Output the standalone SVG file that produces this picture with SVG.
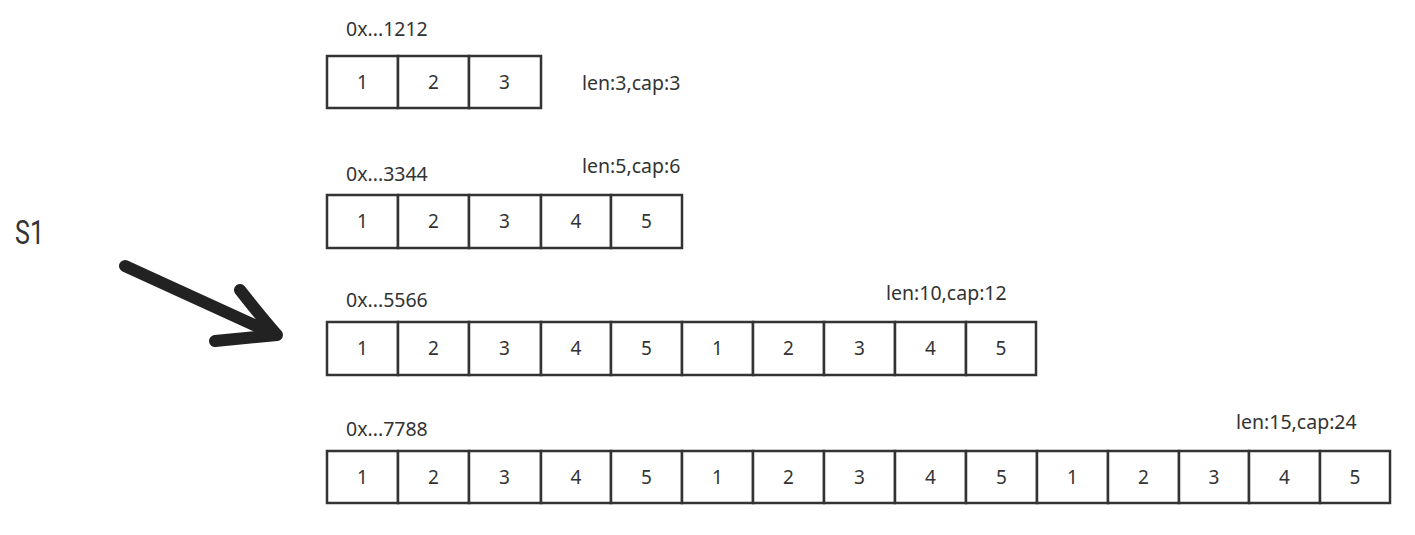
<svg xmlns="http://www.w3.org/2000/svg" width="1415" height="535" viewBox="0 0 1415 535">
<style>
.c{fill:#fff;stroke:#333;stroke-width:2.5}
.n{font-family:"Noto Sans","Liberation Sans",sans-serif;font-size:19px;fill:#333;text-anchor:middle}
.t{font-family:"Noto Sans","Liberation Sans",sans-serif;font-size:19.5px;fill:#333}
.s{font-family:Roboto,"Liberation Sans",sans-serif;font-size:33px;fill:#333}
.a{fill:none;stroke:#222;stroke-width:12;stroke-linecap:round;stroke-linejoin:round}
</style>
<rect width="1415" height="535" fill="#fff"/>
<g id="s1"><text class="s" x="15" y="244" textLength="29" lengthAdjust="spacingAndGlyphs">S1</text></g>
<g id="row1">
<text class="t" x="346" y="36">0x...1212</text>
<text class="t" x="582" y="90">len:3,cap:3</text>
<g transform="translate(0,56)">
<rect class="c" x="327" y="0" width="71" height="52"/><text class="n" x="362.5" y="33">1</text>
<rect class="c" x="398" y="0" width="71" height="52"/><text class="n" x="433.5" y="33">2</text>
<rect class="c" x="469" y="0" width="72" height="52"/><text class="n" x="504.5" y="33">3</text>
</g>
</g>
<g id="row2">
<text class="t" x="346" y="181">0x...3344</text>
<text class="t" x="582" y="173">len:5,cap:6</text>
<g transform="translate(0,195)">
<rect class="c" x="327" y="0" width="71" height="53"/><text class="n" x="362.5" y="33">1</text>
<rect class="c" x="398" y="0" width="71" height="53"/><text class="n" x="433.5" y="33">2</text>
<rect class="c" x="469" y="0" width="72" height="53"/><text class="n" x="504.5" y="33">3</text>
<rect class="c" x="541" y="0" width="70" height="53"/><text class="n" x="576" y="33">4</text>
<rect class="c" x="611" y="0" width="71" height="53"/><text class="n" x="646.5" y="33">5</text>
</g>
</g>
<g id="row3">
<text class="t" x="346" y="307">0x...5566</text>
<text class="t" x="886" y="300">len:10,cap:12</text>
<g transform="translate(0,322)">
<rect class="c" x="327" y="0" width="71" height="53"/><text class="n" x="362.5" y="33">1</text>
<rect class="c" x="398" y="0" width="71" height="53"/><text class="n" x="433.5" y="33">2</text>
<rect class="c" x="469" y="0" width="72" height="53"/><text class="n" x="504.5" y="33">3</text>
<rect class="c" x="541" y="0" width="70" height="53"/><text class="n" x="576" y="33">4</text>
<rect class="c" x="611" y="0" width="71" height="53"/><text class="n" x="646.5" y="33">5</text>
<rect class="c" x="682" y="0" width="71" height="53"/><text class="n" x="717.5" y="33">1</text>
<rect class="c" x="753" y="0" width="71" height="53"/><text class="n" x="788.5" y="33">2</text>
<rect class="c" x="824" y="0" width="71" height="53"/><text class="n" x="859.5" y="33">3</text>
<rect class="c" x="895" y="0" width="71" height="53"/><text class="n" x="930.5" y="33">4</text>
<rect class="c" x="966" y="0" width="70" height="53"/><text class="n" x="1001" y="33">5</text>
</g>
</g>
<g id="row4">
<text class="t" x="346" y="436">0x...7788</text>
<text class="t" x="1236" y="429">len:15,cap:24</text>
<g transform="translate(0,451)">
<rect class="c" x="327" y="0" width="71" height="52"/><text class="n" x="362.5" y="33">1</text>
<rect class="c" x="398" y="0" width="71" height="52"/><text class="n" x="433.5" y="33">2</text>
<rect class="c" x="469" y="0" width="72" height="52"/><text class="n" x="504.5" y="33">3</text>
<rect class="c" x="541" y="0" width="70" height="52"/><text class="n" x="576" y="33">4</text>
<rect class="c" x="611" y="0" width="71" height="52"/><text class="n" x="646.5" y="33">5</text>
<rect class="c" x="682" y="0" width="71" height="52"/><text class="n" x="717.5" y="33">1</text>
<rect class="c" x="753" y="0" width="71" height="52"/><text class="n" x="788.5" y="33">2</text>
<rect class="c" x="824" y="0" width="71" height="52"/><text class="n" x="859.5" y="33">3</text>
<rect class="c" x="895" y="0" width="71" height="52"/><text class="n" x="930.5" y="33">4</text>
<rect class="c" x="966" y="0" width="71" height="52"/><text class="n" x="1001.5" y="33">5</text>
<rect class="c" x="1037" y="0" width="71" height="52"/><text class="n" x="1072.5" y="33">1</text>
<rect class="c" x="1108" y="0" width="71" height="52"/><text class="n" x="1143.5" y="33">2</text>
<rect class="c" x="1179" y="0" width="70" height="52"/><text class="n" x="1214" y="33">3</text>
<rect class="c" x="1249" y="0" width="71" height="52"/><text class="n" x="1284.5" y="33">4</text>
<rect class="c" x="1320" y="0" width="70" height="52"/><text class="n" x="1355" y="33">5</text>
</g>
</g>
<g id="connectors">
<path class="a" d="M125 266 L274 334"/>
<path class="a" d="M240 290 Q262 318 277 335 Q245 338 215 341"/>
</g>
</svg>
